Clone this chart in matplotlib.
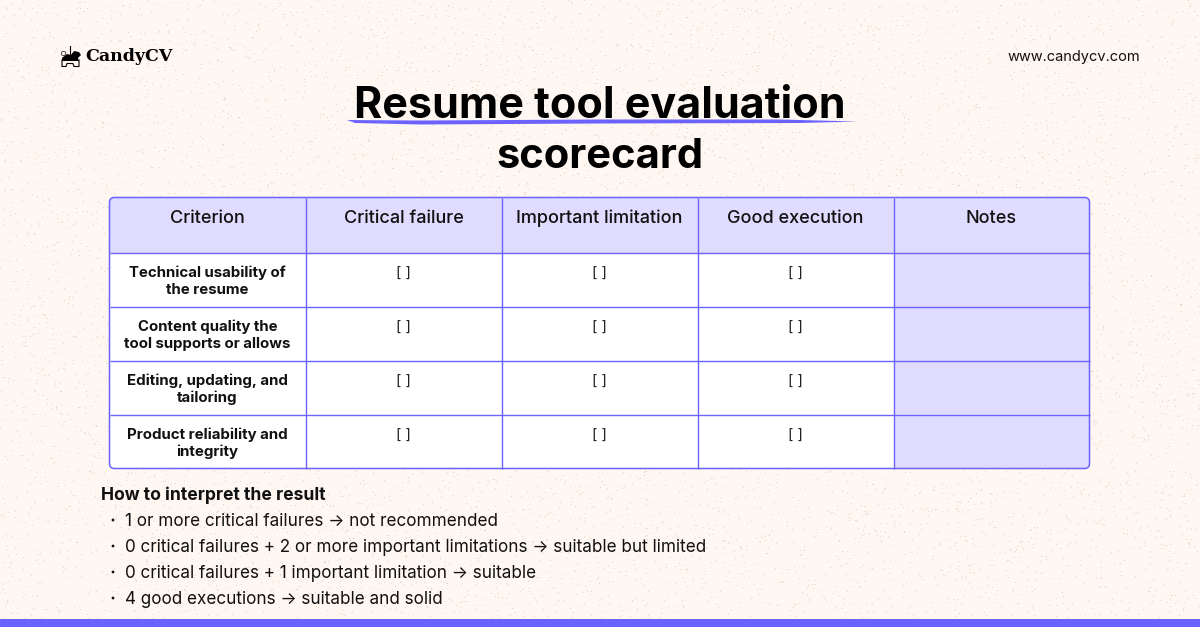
import numpy as np
import matplotlib.pyplot as plt
from matplotlib.patches import FancyBboxPatch, Rectangle, Polygon, Circle

plt.rcParams['font.family'] = ['Inter', 'DejaVu Sans']

BG = '#fff7f1'
PURPLE = '#6c63ff'
LILAC = '#e0dcff'

title_lines = ['Resume tool evaluation', 'scorecard']
columns = ['Criterion', 'Critical failure', 'Important limitation', 'Good execution', 'Notes']
criteria = [['Technical usability of', 'the resume'],
            ['Content quality the', 'tool supports or allows'],
            ['Editing, updating, and', 'tailoring'],
            ['Product reliability and', 'integrity']]
checkbox = '[ ]'
result_heading = 'How to interpret the result'
result_rules = ['1 or more critical failures → not recommended',
                '0 critical failures + 2 or more important limitations → suitable but limited',
                '0 critical failures + 1 important limitation → suitable',
                '4 good executions → suitable and solid']

col_x = [109.5, 305.5, 501.5, 697.5, 893.5, 1089.5]
row_y = [197.5, 253, 307, 361, 415, 468.5]

fig = plt.figure(figsize=(12, 6.27), dpi=100, facecolor=BG)
ax = fig.add_axes([0, 0, 1, 1])
ax.set_xlim(0, 1200)
ax.set_ylim(627, 0)
ax.axis('off')

# paper grain behind everything (texture only, not data)
n = np.arange(1, 9000)
ax.scatter(np.mod(np.sin(n * 12.9898) * 43758.5453, 1) * 1200, np.mod(np.sin(n * 78.233) * 24634.6345, 1) * 627,
           s=0.7, color='#e6d6cc', linewidths=0, zorder=0)

# logo
ax.add_patch(Polygon([(62, 58), (67, 54), (71, 55), (74, 51), (79, 52), (81, 55), (78, 58), (79, 61),
                      (62, 61)], closed=True, fc='black', ec='none'))
ax.plot([62, 62, 66, 67, 73, 74, 79, 79], [60, 66.5, 66.5, 63.5, 63.5, 66.5, 66.5, 60], color='black', lw=0.8)
ax.plot([70, 70], [46, 54], color='black', lw=0.8)
ax.add_patch(Circle((63.5, 53.5), 2.2, fc='none', ec='#333333', lw=0.6))
ax.text(85, 56.5, 'CandyCV', fontsize=12.5, family='DejaVu Serif', weight='bold', va='center', ha='left', color='black')
ax.text(1140, 60.5, 'www.candycv.com', fontsize=10.5, va='baseline', ha='right', color='#111111')

# title
ax.text(600, 118, title_lines[0], fontsize=31, weight='bold', ha='center', va='baseline', color='black')
ax.text(600, 168, title_lines[1], fontsize=30, weight='bold', ha='center', va='baseline', color='black')
ax.add_patch(Polygon([(347, 120), (420, 120.5), (600, 119.5), (780, 119.5), (858, 121.5), (800, 123), (600, 123.5),
                      (420, 124.5), (355, 123)], closed=True, fc=PURPLE, ec='none', zorder=3))

# table
clip = FancyBboxPatch((col_x[0], row_y[0]), col_x[-1] - col_x[0], row_y[-1] - row_y[0],
                      boxstyle='round,pad=0,rounding_size=5', fc='white', ec='none')
ax.add_patch(clip)
head = Rectangle((col_x[0], row_y[0]), col_x[-1] - col_x[0], row_y[1] - row_y[0], fc=LILAC, ec='none', clip_path=clip)
notes = Rectangle((col_x[4], row_y[1]), col_x[5] - col_x[4], row_y[-1] - row_y[1], fc=LILAC, ec='none', clip_path=clip)
ax.add_patch(head)
ax.add_patch(notes)
for x in col_x[1:-1]:
    ax.plot([x, x], [row_y[0], row_y[-1]], color=PURPLE, lw=1, solid_capstyle='butt')
for y in row_y[1:-1]:
    ax.plot([col_x[0], col_x[-1]], [y, y], color=PURPLE, lw=1, solid_capstyle='butt')
ax.add_patch(FancyBboxPatch((col_x[0], row_y[0]), col_x[-1] - col_x[0], row_y[-1] - row_y[0],
                            boxstyle='round,pad=0,rounding_size=5', fc='none', ec=PURPLE, lw=1.1))

for i, name in enumerate(columns):
    ax.text((col_x[i] + col_x[i + 1]) / 2, 223, name, fontsize=13, weight='medium', ha='center', va='baseline', color='#111111')

for r, crit in enumerate(criteria):
    top = row_y[r + 1]
    for k, part in enumerate(crit):
        ax.text((col_x[0] + col_x[1]) / 2, top + 24 + 17 * k, part, fontsize=10.8, weight='bold', ha='center', va='baseline',
                color='#111111')
    for c in range(1, 4):
        ax.text((col_x[c] + col_x[c + 1]) / 2, top + 24.5, checkbox, fontsize=10.5, ha='center', va='baseline', color='#222222')

# interpretation notes
ax.text(101, 500, result_heading, fontsize=12.6, weight='bold', ha='left', va='baseline', color='#111111')
for i, line in enumerate(result_rules):
    y = 520 + 26 * i
    ax.add_patch(Circle((113, y), 1.4, fc='#111111', ec='none'))
    ax.text(125, y + 6, line, fontsize=12.3, ha='left', va='baseline', color='#111111')

# bottom band
ax.add_patch(Rectangle((0, 618.5), 1200, 8.5, fc=PURPLE, ec='none'))

fig.savefig('out.png', dpi=100, facecolor=BG)
